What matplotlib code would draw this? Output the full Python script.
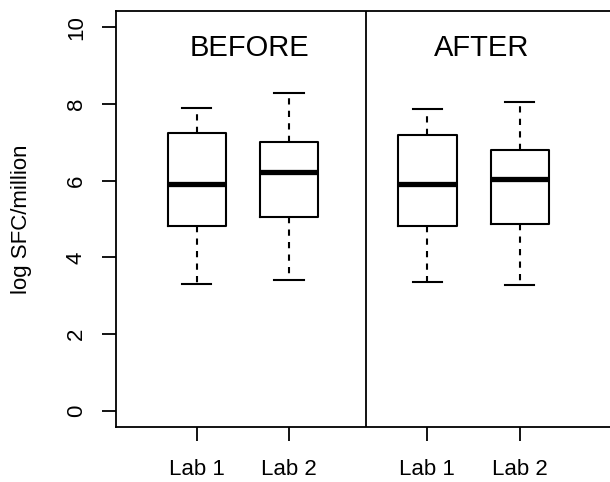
import matplotlib
matplotlib.use("Agg")
import matplotlib.pyplot as plt

# box stats (log SFC/million)
groups = ["BEFORE", "BEFORE", "AFTER", "AFTER"]
labels = ["Lab 1", "Lab 2", "Lab 1", "Lab 2"]
whislo = [3.31, 3.40, 3.35, 3.29]
q1 = [4.82, 5.04, 4.83, 4.88]
med = [5.91, 6.23, 5.90, 6.04]
q3 = [7.24, 7.01, 7.20, 6.79]
whishi = [7.90, 8.29, 7.86, 8.05]
positions = [1, 2, 3.5, 4.5]

plt.rcParams['font.family'] = ['Liberation Sans', 'DejaVu Sans']

fig = plt.figure(figsize=(6.1, 4.82), dpi=100)
ax = fig.add_axes([116/610, 1 - 427/482, 1 - 116/610, (427 - 11)/482])

stats = []
for i in range(len(labels)):
    stats.append({'label': labels[i], 'whislo': whislo[i], 'q1': q1[i],
                  'med': med[i], 'q3': q3[i], 'whishi': whishi[i], 'fliers': []})

ax.bxp(stats, positions=positions, widths=0.63, showfliers=False,
       boxprops=dict(color='black', linewidth=1.5),
       medianprops=dict(color='black', linewidth=3.8, solid_capstyle='butt'),
       whiskerprops=dict(color='black', linewidth=1.5, linestyle=(0, (3, 3))),
       capprops=dict(color='black', linewidth=1.5), capwidths=0.32)

# divider between BEFORE and AFTER
ax.axvline(2.83, color='black', linewidth=1.3)

ax.text(1.567, 9.24, "BEFORE", ha='center', va='baseline', fontsize=21)
ax.text(4.09, 9.24, "AFTER", ha='center', va='baseline', fontsize=21)

ax.set_xlim(0.126, 5.478)
ax.set_ylim(-0.42, 10.42)
ax.set_yticks([0, 2, 4, 6, 8, 10])
ax.set_yticklabels(["0", "2", "4", "6", "8", "10"], rotation=90, va='center')
ax.set_xticks(positions)
ax.set_xticklabels(labels)
ax.tick_params(axis='both', length=10, width=1.3, labelsize=16)
ax.tick_params(axis='y', pad=11)
ax.tick_params(axis='x', pad=13)
ax.set_ylabel("log SFC/million", fontsize=16, labelpad=24)
ax.spines['right'].set_visible(False)
for s in ['left', 'top', 'bottom']:
    ax.spines[s].set_linewidth(1.3)

fig.savefig("out.png", dpi=100)
